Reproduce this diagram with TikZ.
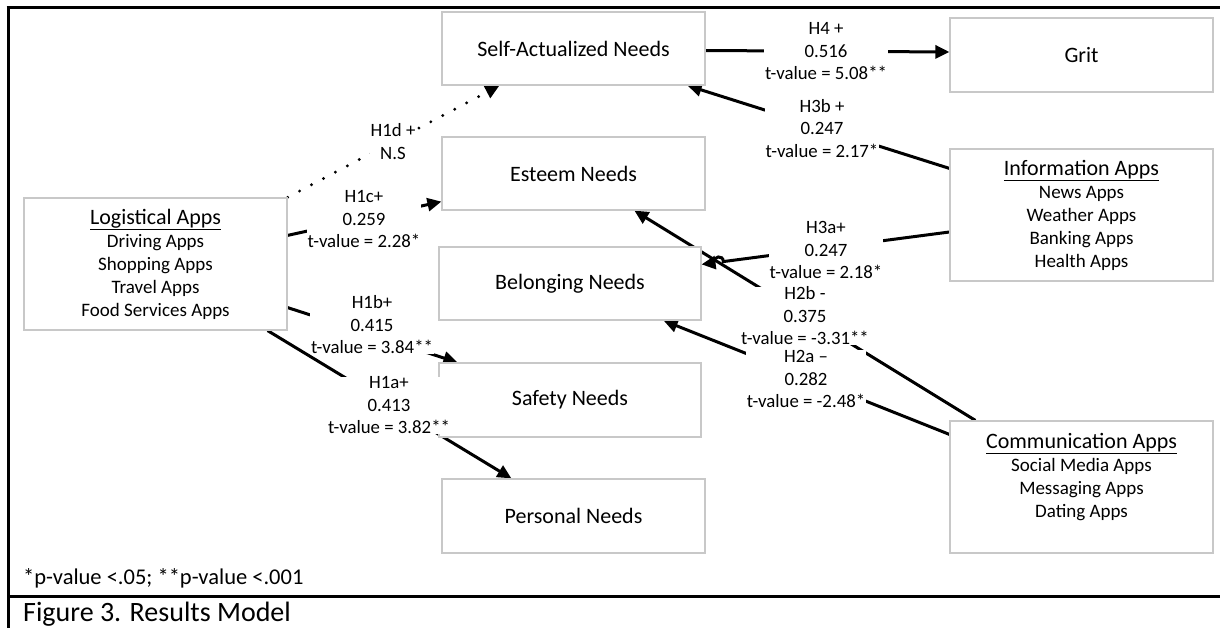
\documentclass[tikz,border=0pt]{standalone}
\usepackage{fontspec}
\setmainfont{Carlito}
\usetikzlibrary{arrows.meta,calc}
\pgfdeclarelayer{background}
\pgfsetlayers{background,main}
\definecolor{boxgray}{RGB}{200,200,200}
\newcommand\apptitle[1]{{\fontsize{22}{23}\selectfont\underline{#1}}}
\tikzset{
  box/.style={draw=boxgray, line width=1.2pt, fill=white, minimum width=263pt, minimum height=73pt, inner sep=0pt, align=center, font=\fontsize{22}{26}\selectfont},
  catbox/.style={box, minimum height=132pt, font=\fontsize{19}{23}\selectfont},
  lbl/.style={fill=white, inner xsep=1pt, inner ysep=0pt, align=center, font=\fontsize{18.8}{22.5}\selectfont},
  conn/.style={line width=3pt, -{Triangle[length=14pt,width=13pt]}},
  nsconn/.style={conn, line width=3.2pt, line cap=round, dash pattern=on 0pt off 13.5pt},
  frameline/.style={line width=3pt}
}
\begin{document}
\begin{tikzpicture}[x=1pt,y=-1pt]
\useasboundingbox (0,0) rectangle (1220,628);
\begin{pgfonlayer}{background}
\fill[white] (0,0) rectangle (1220,628);
\end{pgfonlayer}
% frame
\draw[frameline] (6.5,8) -- (1220,8);
\draw[frameline] (8,6.5) -- (8,628);
\draw[frameline] (8,596) -- (1220,596);
% boxes
\node[box] (sa) at (573.5,48.5) {Self-Actualized Needs};
\node[box] (es) at (573.5,173.5) {Esteem Needs};
\node[box, minimum width=262pt] (be) at (570,283.5) {Belonging Needs};
\node[box, minimum width=262pt, minimum height=74pt] (sf) at (570,400) {Safety Needs};
\node[box, minimum height=74pt] (pe) at (573.5,516) {Personal Needs};
\node[box, minimum height=74pt] (grit) at (1081.5,55) {Grit};
\node[catbox] (info) at (1081.5,215) {\apptitle{Information Apps}\\News Apps\\Weather Apps\\Banking Apps\\Health Apps};
\node[catbox] (comm) at (1081.5,487) {\apptitle{Communication Apps}\\Social Media Apps\\Messaging Apps\\Dating Apps\\\mbox{}};
\node[catbox] (log) at (155.5,264) {\apptitle{Logistical Apps}\\Driving Apps\\Shopping Apps\\Travel Apps\\Food Services Apps};
% connector end points
\coordinate (h3aS) at ($(info.west)+(0,17)$);
\coordinate (h3aE) at ($(be.north east)+(0,18)$);
\coordinate (h2bS) at ($(comm.north west)+(26,0)$);
\coordinate (h2bE) at ($(es.south west)+(193,0)$);
\coordinate (X) at (intersection of h3aS--h3aE and h2bS--h2bE);
\begin{pgfonlayer}{background}
\draw[conn] ($(sa.east)+(0,2)$) -- ($(grit.west)+(0,-3)$);
\draw[conn] ($(info.north west)+(0,20)$) -- ($(sa.south east)+(-18,0)$);
\draw[conn] (h2bS) -- (h2bE);
\draw[conn] (h3aS) -- ($(X)!5pt!(h3aS)$) .. controls ($(X)!5pt!(h3aS)+(0,-7)$) and ($(X)!5pt!(h3aE)+(0,-7)$) .. ($(X)!5pt!(h3aE)$) -- (h3aE);
\draw[conn] ($(comm.north west)+(0,14)$) -- ($(be.south east)+(-38,0)$);
\draw[nsconn] (log.north east) -- ($(sa.south west)+(58,0)$);
\draw[conn] ($(log.north east)+(0,38)$) -- ($(es.south west)+(0,-9)$);
\draw[conn] ($(log.south east)+(0,-23)$) -- ($(sf.north west)+(19,0)$);
\draw[conn] ($(log.south east)+(-20,0)$) -- ($(pe.north west)+(70,0)$);
\end{pgfonlayer}
% labels
\node[lbl] (l4) at (826,51.5) {H4 +\\0.516\\t-value = 5.08**};
\node[lbl] (l3b) at (822,128.5) {H3b +\\0.247\\t-value = 2.17*};
\node[lbl] (l3a) at (826,250) {H3a+\\0.247\\t-value = 2.18*};
\node[lbl] (l2b) at (805,316) {H2b -\\0.375\\t-value = -3.31**};
\node[lbl] (l2a) at (806,379) {H2a –\\0.282\\t-value = -2.48*};
\node[lbl] (l1d) at (393,141.5) {H1d +\\N.S};
\node[lbl] (l1c) at (364,219.5) {H1c+\\0.259\\t-value = 2.28*};
\node[lbl] (l1a) at (389,405.5) {H1a+\\0.413\\t-value = 3.82**};
\node[lbl] (l1b) at (372,325) {H1b+\\0.415\\t-value = 3.84**};
% footnote and caption
\node[anchor=base west, inner sep=0pt, font=\fontsize{22.5}{27}\selectfont] (fn) at (23,584) {*p-value <.05; **p-value <.001};
\node[anchor=base west, inner sep=0pt, font=\fontsize{28}{32}\selectfont] (cap) at (23,621.5) {Figure 3. Results Model};
\end{tikzpicture}
\end{document}
